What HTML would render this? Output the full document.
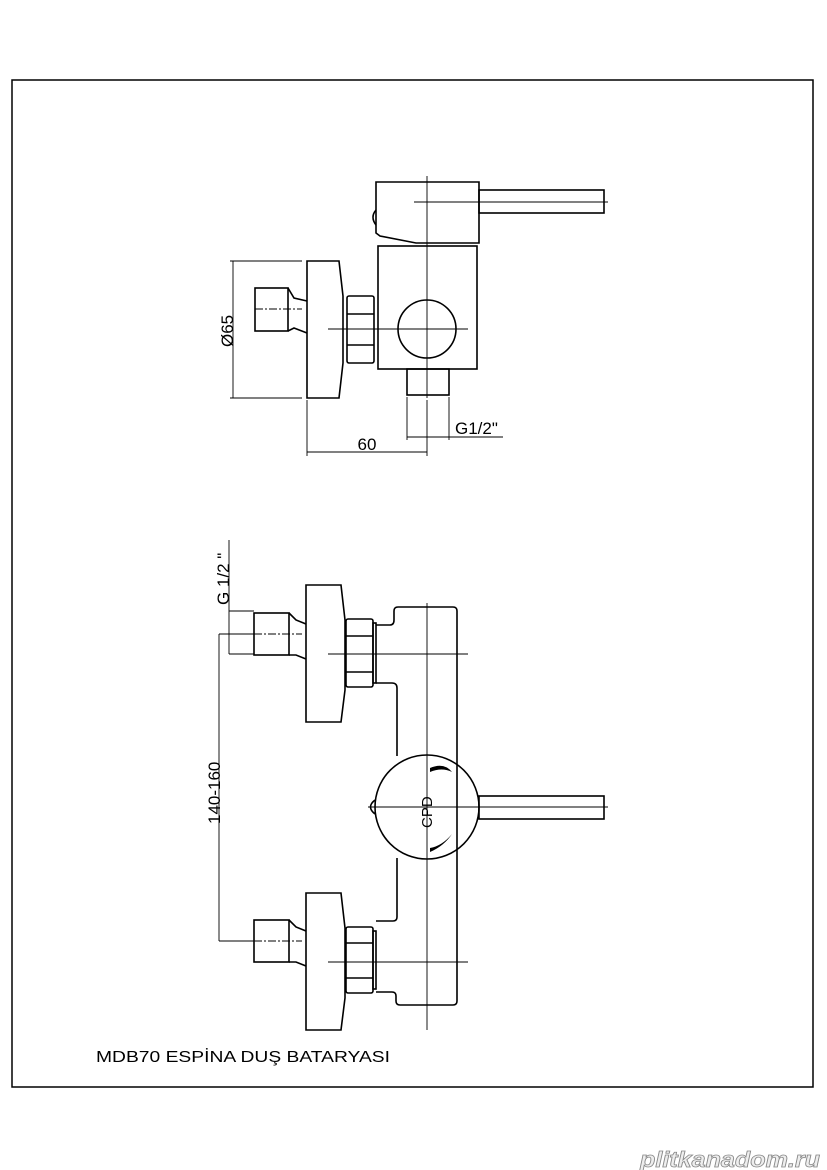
<!DOCTYPE html>
<html><head><meta charset="utf-8"><style>
html,body{margin:0;padding:0;background:#fff;}
svg{display:block;}
text{font-family:"Liberation Sans",sans-serif;fill:#000;}
</style></head><body>
<svg width="827" height="1170" viewBox="0 0 827 1170" xmlns="http://www.w3.org/2000/svg">
<rect x="12" y="80" width="801" height="1007" fill="none" stroke="#000" stroke-width="1.5"/>
<g fill="none" stroke="#000" stroke-width="1.6">
<path d="M376,182 H479 V243 H416 L380,236 L376,233 Z"/>
<rect x="479" y="190" width="125" height="23"/>
<path d="M376,210 Q370,217 376,225"/>
<rect x="378" y="246" width="99" height="123"/>
<circle cx="427" cy="329" r="29"/>
<rect x="407" y="369" width="42" height="26"/>
<rect x="347" y="296" width="27" height="67" rx="2"/>
<line x1="347" y1="314" x2="374" y2="314"/><line x1="347" y1="345" x2="374" y2="345"/>
<path d="M307,261 H339 L343,296 V363 L339,398 H307 Z"/>
<rect x="255" y="288" width="33" height="43"/>
<path d="M288,288 L294,298 L307,301 M288,331 L294,328 L307,333"/>
<path d="M376,625 H390 Q394,625 394,620 V611 Q394,607 398,607 H453 Q457,607 457,611 V1001 Q457,1005 453,1005 H400 Q396,1005 396,1001 V996 Q396,992 392,992 H376"/>
<path d="M376,683 H392 Q397,683 397,688 V756"/>
<path d="M397,858 V917 Q397,921 393,921 H376"/>
<circle cx="427" cy="807" r="52"/>
<rect x="479" y="796" width="125" height="23"/>
<path d="M375,800 Q366,807 375,814"/>
<path d="M306,585 H341 L345,620 V690 L341,722 H306 Z"/>
<rect x="346" y="619" width="27" height="68" rx="2"/>
<line x1="346" y1="636" x2="373" y2="636"/><line x1="346" y1="672" x2="373" y2="672"/>
<rect x="373" y="623" width="3" height="60"/>
<rect x="254" y="613" width="35" height="42"/>
<path d="M289,613 L296,620 L306,624 M289,655 L296,655 L306,659"/>
<path d="M306,893 H341 L345,928 V998 L341,1030 H306 Z"/>
<rect x="346" y="927" width="27" height="66" rx="2"/>
<line x1="346" y1="943" x2="373" y2="943"/><line x1="346" y1="978" x2="373" y2="978"/>
<rect x="373" y="931" width="3" height="58"/>
<rect x="254" y="920" width="35" height="42"/>
<path d="M289,920 L296,927 L306,931 M289,962 L296,962 L306,966"/>
</g>
<path d="M430,768 Q444,762 452,772 Q442,767 430,772 Z" fill="#000"/>
<path d="M430,852 Q444,846 452,834 Q442,846 430,848 Z" fill="#000"/>
<g fill="none" stroke="#000" stroke-width="0.9">
<line x1="427" y1="176" x2="427" y2="398"/>
<line x1="414" y1="202" x2="608" y2="202"/>
<line x1="328" y1="329" x2="468" y2="329"/>
<line x1="255" y1="309" x2="302" y2="309" stroke-dasharray="8,2,2,2"/>
<line x1="427" y1="603" x2="427" y2="1030"/>
<line x1="328" y1="654" x2="468" y2="654"/>
<line x1="328" y1="962" x2="468" y2="962"/>
<line x1="368" y1="807" x2="608" y2="807"/>
<line x1="254" y1="634" x2="302" y2="634" stroke-dasharray="8,2,2,2"/>
<line x1="254" y1="941" x2="302" y2="941" stroke-dasharray="8,2,2,2"/>
<line x1="233" y1="261" x2="233" y2="398"/>
<line x1="230" y1="261" x2="302" y2="261"/>
<line x1="230" y1="398" x2="302" y2="398"/>
<line x1="307" y1="400" x2="307" y2="456"/>
<line x1="427" y1="400" x2="427" y2="456"/>
<line x1="307" y1="452" x2="427" y2="452"/>
<line x1="407" y1="397" x2="407" y2="440"/>
<line x1="449" y1="397" x2="449" y2="440"/>
<line x1="407" y1="437" x2="503" y2="437"/>
<line x1="229" y1="540" x2="229" y2="654"/>
<line x1="229" y1="611" x2="254" y2="611"/>
<line x1="229" y1="654" x2="254" y2="654"/>
<line x1="219" y1="634" x2="219" y2="941"/>
<line x1="219" y1="634" x2="254" y2="634"/>
<line x1="219" y1="941" x2="254" y2="941"/>
</g>
<text x="367" y="450" font-size="17" text-anchor="middle">60</text>
<text x="455" y="434" font-size="17">G1/2"</text>
<text transform="translate(233,347) rotate(-90)" font-size="17">Ø65</text>
<text transform="translate(229,605) rotate(-90)" font-size="17">G 1/2 "</text>
<text transform="translate(220,824) rotate(-90)" font-size="17">140-160</text>
<text transform="translate(432,828) rotate(-90)" font-size="15">CPD</text>
<text x="96" y="1062" font-size="16" textLength="294" lengthAdjust="spacingAndGlyphs">MDB70  ESPİNA DUŞ  BATARYASI</text>
<text x="640" y="1167" font-size="22" font-weight="bold" font-style="italic" style="fill:#eee;stroke:#888;stroke-width:0.8" textLength="180" lengthAdjust="spacingAndGlyphs">plitkanadom.ru</text>
</svg>
</body></html>
